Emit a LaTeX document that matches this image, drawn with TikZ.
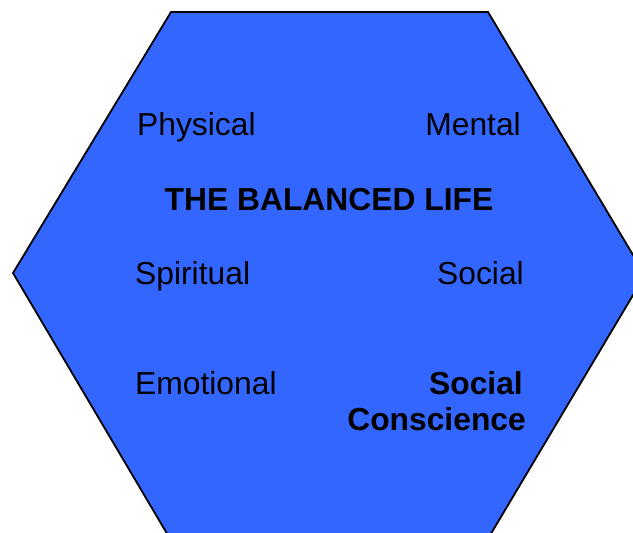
\documentclass[tikz,border=0pt]{standalone}
\usepackage{fontspec}
\setmainfont{Liberation Sans}
\definecolor{hexblue}{HTML}{3366FF}
\tikzset{
  lbl/.style={inner sep=0pt, font=\fontsize{31.8}{38}\selectfont},
  blbl/.style={lbl, font=\fontsize{31.8}{38}\selectfont\bfseries},
}
\begin{document}
\begin{tikzpicture}[x=1pt,y=-1pt]
\useasboundingbox (0,0) rectangle (633,533);
\clip (0,0) rectangle (633,533);
\draw[fill=hexblue, line width=1.8pt, line join=miter]
  (171,12) -- (488,12) -- (645,275) -- (489,537) -- (169,537) -- (13,273) -- cycle;
\node[lbl, anchor=base west] (phys) at (137,135.5) {Physical};
\node[lbl, anchor=base east] (ment) at (521,135.5) {Mental};
\node[blbl, anchor=base] (title) at (329,210.5) {THE BALANCED LIFE};
\node[lbl, anchor=base west] (spir) at (135,284.5) {Spiritual};
\node[lbl, anchor=base east] (soc) at (524,284.5) {Social};
\node[lbl, anchor=base west] (emo) at (135,394.5) {Emotional};
\node[blbl, anchor=base east] (sc1) at (523,394.5) {Social};
\node[blbl, anchor=base east] (sc2) at (526,430) {Conscience};
\end{tikzpicture}
\end{document}
